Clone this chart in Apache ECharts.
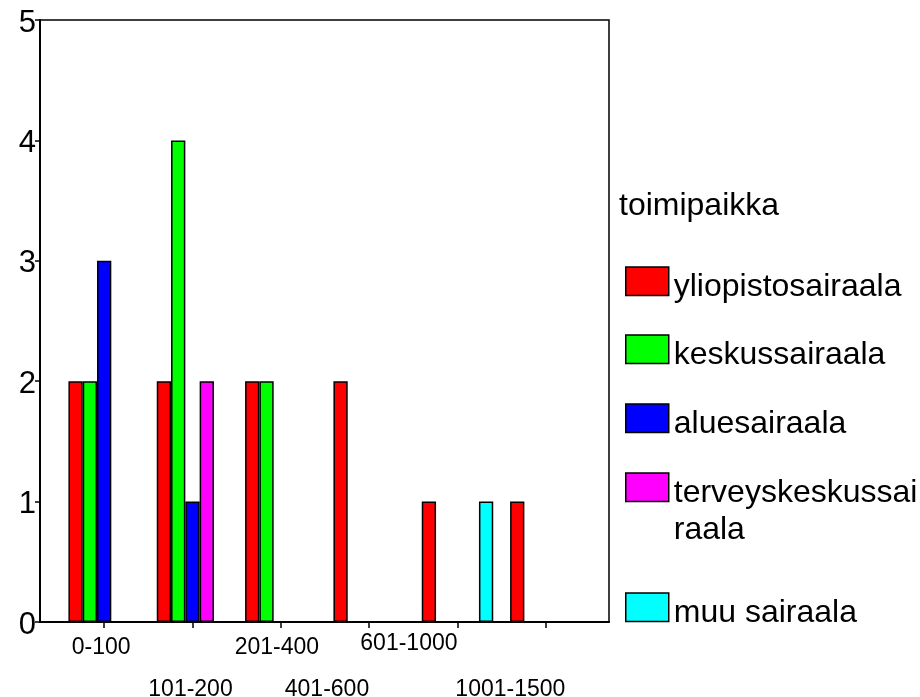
<!DOCTYPE html>
<html>
<head>
<meta charset="utf-8">
<title>toimipaikka</title>
<script src="https://cdn.jsdelivr.net/npm/echarts@6/dist/echarts.min.js"></script>
<style>
  html, body { margin: 0; padding: 0; background: #fff; }
  #chart { width: 920px; height: 697px; }
</style>
</head>
<body>
<div id="chart"></div>
<script>
// Size classes (x axis) and counts per hospital type
const categories = ['0-100', '101-200', '201-400', '401-600', '601-1000', '1001-1500'];
const yliopistosairaala = [2, 2, 2, 2, 1, 1];
const keskussairaala = [2, 4, 2, 0, 0, 0];
const aluesairaala = [3, 1, 0, 0, 0, 0];
const terveyskeskussairaala = [0, 2, 0, 0, 0, 0];
const muuSairaala = [0, 0, 0, 0, 1, 0];
const yTicks = [0, 1, 2, 3, 4, 5];

const seriesNames = ['yliopistosairaala', 'keskussairaala', 'aluesairaala', 'terveyskeskussairaala', 'muu sairaala'];
const seriesValues = [yliopistosairaala, keskussairaala, aluesairaala, terveyskeskussairaala, muuSairaala];
const seriesColors = ['#ff0000', '#00ff00', '#0000ff', '#ff00ff', '#00ffff'];

const FONT = "'Liberation Sans', Arial, Helvetica, sans-serif";

// Staggered category labels: per-label alignment / offset
const labelStyles = [
  { align: 'center', padding: [4, 6, 0, 0] },
  { align: 'center', padding: [46, 4, 0, 0] },
  { align: 'center', padding: [4, 8, 0, 0] },
  { align: 'right', padding: [46, 0, 0, 0] },
  { align: 'right', padding: [0, 0, 0, 0] },
  { align: 'center', padding: [46, 71, 0, 0] }
];

const chart = echarts.init(document.getElementById('chart'), null, { renderer: 'canvas' });

// Legend entries, each placed on its own (centre y of the swatch).
// Leading blank lines push the text slightly below the swatch centre.
const legendCentres = [281, 349, 418, 487, 607];
const legends = seriesNames.map(function (name, i) {
  const wrapped = name === 'terveyskeskussairaala';
  const lh = wrapped ? 12.33 : 12;
  const aboveCentre = wrapped ? 59 : 21.75;
  return {
    orient: 'vertical',
    left: 625,
    top: legendCentres[i] - aboveCentre,
    padding: 0,
    itemWidth: 43,
    itemHeight: 28.5,
    selectedMode: false,
    icon: 'rect',
    data: [name],
    formatter: function (n) {
      return n === 'terveyskeskussairaala'
        ? '\n\n\n\nterveyskeskussai\n\n\nraala'
        : '\n' + n;
    },
    itemStyle: { borderColor: '#000', borderWidth: 1.5 },
    textStyle: { fontFamily: FONT, fontSize: 32, color: '#000', lineHeight: lh }
  };
});

const option = {
  backgroundColor: '#fff',
  animation: false,
  title: {
    text: 'toimipaikka',
    left: 619,
    top: 190,
    padding: 0,
    textStyle: { fontFamily: FONT, fontSize: 32, fontWeight: 'normal', color: '#000' }
  },
  legend: legends,
  grid: [
    // bars / category axis
    { left: 60, right: 330, top: 20, bottom: 75, outerBoundsMode: 'none', containLabel: false },
    // framed plot area with the value axis
    {
      left: 40, right: 311, top: 20, bottom: 75, outerBoundsMode: 'none', containLabel: false,
      show: true, borderColor: '#000', borderWidth: 1.5, backgroundColor: 'transparent'
    }
  ],
  xAxis: [
    {
      gridIndex: 0,
      type: 'category',
      data: categories.map(function (c, i) { return { value: c, textStyle: labelStyles[i] }; }),
      axisLine: { show: false },
      axisTick: { show: true, alignWithLabel: true, length: 6, lineStyle: { color: '#000', width: 1.5 } },
      axisLabel: { interval: 0, fontFamily: FONT, fontSize: 23, color: '#000', margin: 10 },
      splitLine: { show: false }
    },
    {
      gridIndex: 1,
      type: 'value',
      min: 0, max: 1,
      axisLine: { show: true, lineStyle: { color: '#000', width: 2 } },
      axisTick: { show: false },
      axisLabel: { show: false },
      splitLine: { show: false }
    }
  ],
  yAxis: [
    { gridIndex: 0, type: 'value', min: yTicks[0], max: yTicks[yTicks.length - 1], show: false },
    {
      gridIndex: 1,
      type: 'value',
      min: yTicks[0], max: yTicks[yTicks.length - 1], interval: 1,
      axisLine: { show: true, lineStyle: { color: '#000', width: 2 } },
      axisTick: { show: true, length: 5, lineStyle: { color: '#000', width: 1.5 } },
      axisLabel: {
        fontFamily: FONT, fontSize: 31, color: '#000', margin: 4, lineHeight: 6,
        formatter: function (v) { return '\n' + v; }
      },
      splitLine: { show: false }
    }
  ],
  series: seriesNames.map(function (name, i) {
    return {
      name: name,
      type: 'bar',
      xAxisIndex: 0,
      yAxisIndex: 0,
      data: seriesValues[i].map(function (v) {
        // empty cells draw nothing over the baseline
        return v === 0 ? { value: v, itemStyle: { borderWidth: 0 } } : v;
      }),
      barWidth: 14.3,
      barGap: '0%',
      itemStyle: { color: seriesColors[i], borderColor: '#000', borderWidth: 1.5 },
      emphasis: { disabled: true }
    };
  })
};

chart.setOption(option);
</script>
</body>
</html>
